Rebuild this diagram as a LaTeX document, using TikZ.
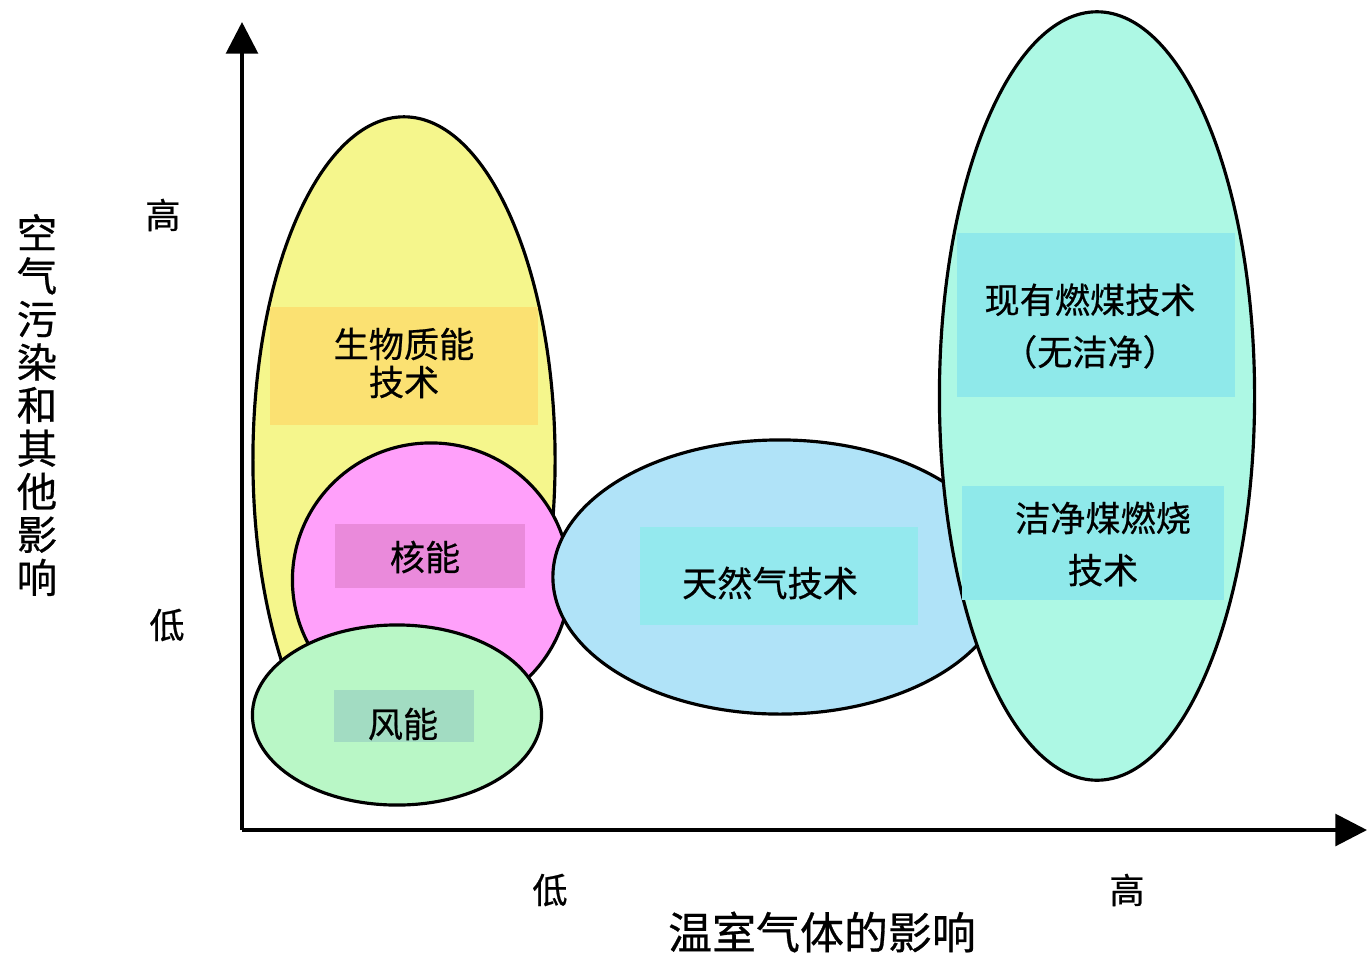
\documentclass[tikz,border=0pt]{standalone}
\usepackage{fontspec}
\setmainfont{Noto Sans CJK SC}[FakeBold=0.6]
\usetikzlibrary{shapes.geometric,arrows.meta}
\definecolor{bioY}{HTML}{F5F68C}
\definecolor{bioBand}{HTML}{FBE172}
\definecolor{nucP}{HTML}{FFA0FA}
\definecolor{nucBand}{HTML}{EA8ADB}
\definecolor{windG}{HTML}{B9F7C6}
\definecolor{windBand}{HTML}{A2DCC2}
\definecolor{gasB}{HTML}{B0E3F8}
\definecolor{gasBand}{HTML}{94E9EE}
\definecolor{coalT}{HTML}{ADF8E4}
\definecolor{coalBand}{HTML}{8FE9EA}
\tikzset{
  blob/.style={ellipse, draw=black, line width=0.9pt, inner sep=0pt, outer sep=0pt},
  band/.style={rectangle, inner sep=0pt, outer sep=0pt},
  lbl/.style={font=\fontsize{10}{14.8}\selectfont, align=center, inner sep=0pt, text=black},
  axlbl/.style={font=\fontsize{10}{12}\selectfont, inner sep=0pt},
  axis/.style={line width=1.1pt, -{Triangle[width=9pt,length=9pt]}},
}
\begin{document}
\begin{tikzpicture}[x=0.01cm,y=-0.01cm]
\useasboundingbox (0,0) rectangle (1367,954);
% axes
\coordinate (O) at (242,830);
\coordinate (ytip) at (242,22);
\coordinate (xtip) at (1367,830);
\draw[axis] (O) -- (ytip);
\draw[axis] (O) -- (xtip);
% biomass
\node[blob, fill=bioY, minimum width=3.02cm, minimum height=6.86cm] (bio) at (404,460) {};
\node[band, fill=bioBand, minimum width=2.68cm, minimum height=1.17cm] (bioband) at (404,366) {};
\node[lbl, font=\fontsize{10}{10.8}\selectfont] (biotext) at (404,363) {生物质能\\技术};
% nuclear
\node[blob, fill=nucP, minimum width=2.77cm, minimum height=2.74cm] (nuc) at (431,580) {};
\node[band, fill=nucBand, minimum width=1.9cm, minimum height=0.63cm] (nucband) at (430,556) {};
\node[lbl] (nuctext) at (425,557) {核能};
% wind
\node[blob, fill=windG, minimum width=2.89cm, minimum height=1.8cm] (wind) at (397,715) {};
\node[band, fill=windBand, minimum width=1.4cm, minimum height=0.52cm] (windband) at (404,716) {};
\node[lbl] (windtext) at (403,724) {风能};
% gas
\node[blob, fill=gasB, minimum width=4.54cm, minimum height=2.74cm] (gas) at (780,577) {};
\node[band, fill=gasBand, minimum width=2.78cm, minimum height=0.98cm] (gasband) at (779,576) {};
\node[lbl] (gastext) at (770,583) {天然气技术};
% coal
\node[blob, fill=coalT, minimum width=3.15cm, minimum height=7.68cm] (coal) at (1097,396) {};
\node[band, fill=coalBand, minimum width=2.78cm, minimum height=1.64cm] (coalband1) at (1096,315) {};
\node[lbl] (coaltext1) at (1090,326) {现有燃煤技术\\（无洁净）};
\node[band, fill=coalBand, minimum width=2.62cm, minimum height=1.13cm] (coalband2) at (1093,543) {};
\node[lbl] (coaltext2) at (1103,544) {洁净煤燃烧\\技术};
% axis labels
\node[axlbl] (yhigh) at (163,215) {高};
\node[axlbl] (ylow) at (167,625) {低};
\node[axlbl] (xlow) at (550,890) {低};
\node[axlbl] (xhigh) at (1127,890) {高};
\node[font=\fontsize{12.5}{14}\selectfont, inner sep=0pt] (xtitle) at (822,932) {温室气体的影响};
\node[font=\fontsize{11.5}{12.25}\selectfont, align=center, inner sep=0pt] (ytitle) at (37,405) {空\\气\\污\\染\\和\\其\\他\\影\\响};
\end{tikzpicture}
\end{document}
